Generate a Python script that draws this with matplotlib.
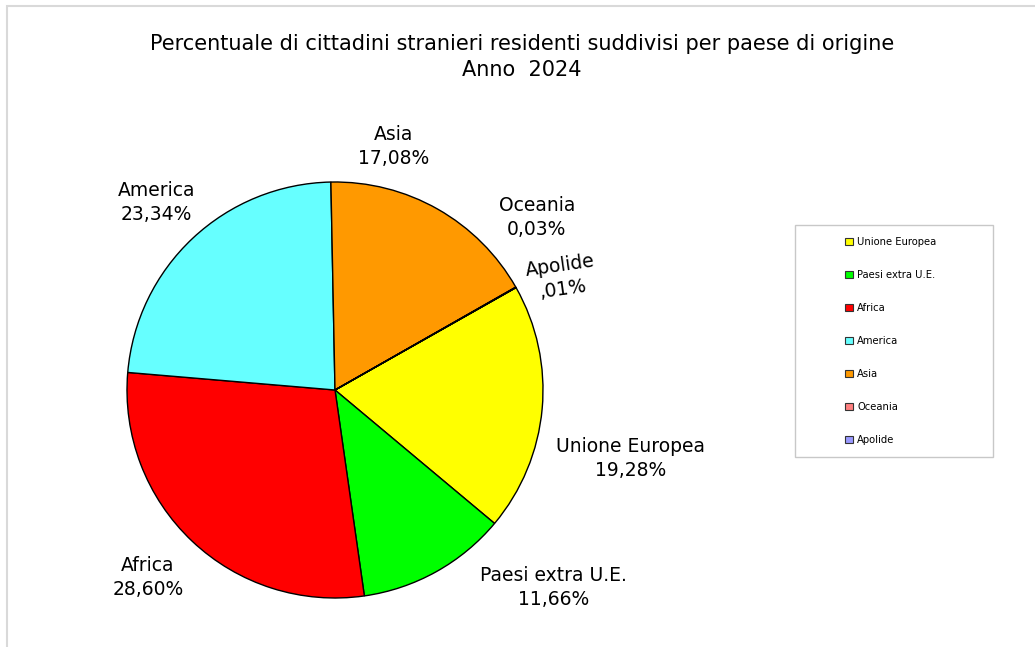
import numpy as np
import matplotlib
matplotlib.use('Agg')
import matplotlib.pyplot as plt
from matplotlib.patches import Patch, Rectangle

# data
categories = ['Unione Europea', 'Paesi extra U.E.', 'Africa', 'America', 'Asia', 'Oceania', 'Apolide']
percentages = [19.28, 11.66, 28.60, 23.34, 17.08, 0.03, 0.01]
pct_labels = ['19,28%', '11,66%', '28,60%', '23,34%', '17,08%', '0,03%', ',01%']
colors = ['#FFFF00', '#00FF00', '#FF0000', '#66FFFF', '#FF9900', '#FF8080', '#9999FF']

# label placement (x, y in pie-radius units) and rotation, Excel "best fit" style
label_pos = [(1.42, -0.33), (1.05, -0.95), (-0.90, -0.90), (-0.86, 0.90),
             (0.28, 1.17), (0.97, 0.83), (1.09, 0.54)]
label_rot = [0, 0, 0, 0, 0, 0, 8]

fig = plt.figure(figsize=(10.35, 6.47), dpi=100)
fig.patches.append(Rectangle((7 / 1035, -0.1), 1.1, 1 - 6 / 647 + 0.1, transform=fig.transFigure,
                             fill=False, edgecolor='#d9d9d9', linewidth=1.5))

ax = fig.add_axes([(335 - 208) / 1035, (647 - 598) / 647, 416 / 1035, 416 / 647])
wedges, _ = ax.pie(percentages, colors=colors, startangle=29.5, counterclock=False,
                   wedgeprops=dict(edgecolor='black', linewidth=1.0))
ax.set_xlim(-1, 1)
ax.set_ylim(-1, 1)
ax.set_aspect('equal')
ax.axis('off')

for name, pct, (x, y), rot in zip(categories, pct_labels, label_pos, label_rot):
    ax.text(x, y, f'{name}\n{pct}', ha='center', va='center', fontsize=13.5,
            rotation=rot, linespacing=1.35, clip_on=False)

fig.text(522 / 1035, 1 - 57 / 647,
         'Percentuale di cittadini stranieri residenti suddivisi per paese di origine\nAnno  2024',
         ha='center', va='center', fontsize=15, linespacing=1.35)

# legend box
fig.patches.append(Rectangle((795 / 1035, 1 - 457 / 647), 198 / 1035, 232 / 647,
                             transform=fig.transFigure, fill=False, edgecolor='#c8c8c8', linewidth=1))
handles = [Patch(facecolor=c, edgecolor='#333333', linewidth=0.8) for c in colors]
fig.legend(handles, categories, loc='upper left', bbox_to_anchor=(841 / 1035, 1 - 233 / 647),
           frameon=False, fontsize=7.2, handlelength=0.75, handleheight=0.75,
           handletextpad=0.45, labelspacing=2.3, borderaxespad=0)

fig.savefig('out.png', dpi=100)
